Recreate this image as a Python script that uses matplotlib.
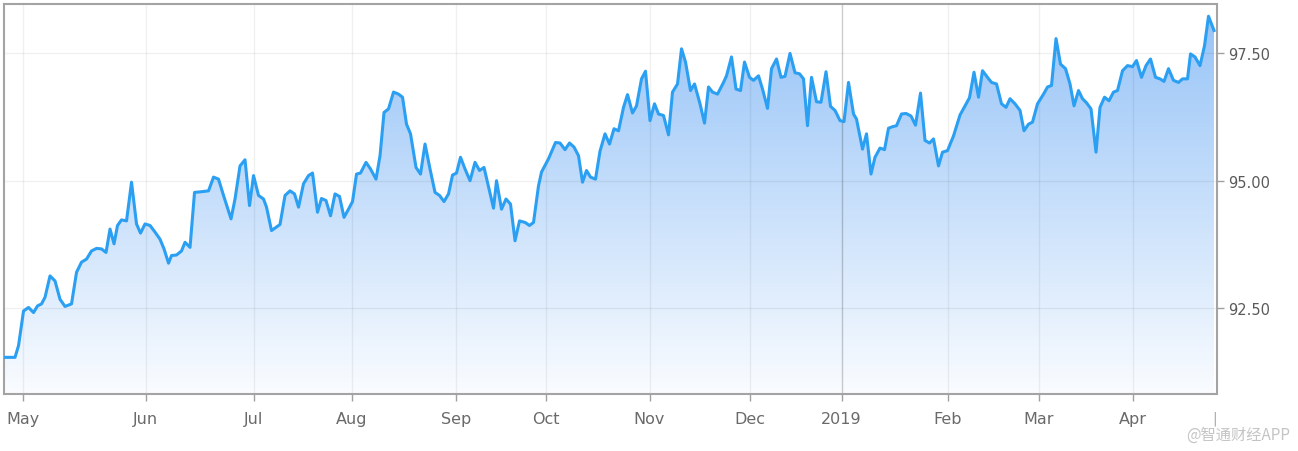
import numpy as np
import matplotlib.pyplot as plt
from matplotlib.colors import LinearSegmentedColormap
from matplotlib.patches import Polygon

# trading-session position (x) and index level (y)
session = [
    0.8, 3.0, 3.7, 4.7, 5.7, 6.7, 7.5, 8.3, 9.0, 10.0,
    11.0, 12.0, 13.0, 14.3, 15.3, 16.3, 17.3, 18.3, 19.3, 20.3,
    21.2, 22.0, 22.8, 23.5, 24.3, 25.3, 26.3, 27.3, 28.1, 29.0,
    30.0, 31.0, 32.0, 32.8, 33.7, 34.3, 35.3, 36.3, 37.0, 38.0,
    38.9, 40.0, 41.7, 42.7, 43.7, 44.7, 46.2, 47.0, 48.0, 49.0,
    49.9, 50.7, 51.7, 52.7, 53.3, 54.3, 56.0, 57.0, 58.0, 58.9,
    59.7, 60.7, 61.7, 62.5, 63.5, 64.3, 65.2, 66.1, 67.0, 67.9,
    68.8, 69.7, 70.5, 71.3, 72.1, 73.2, 74.1, 75.2, 76.0, 76.8,
    77.7, 78.7, 79.7, 80.5, 81.3, 82.1, 83.2, 84.1, 85.0, 86.0,
    87.0, 87.9, 88.8, 89.7, 90.5, 91.3, 92.1, 93.0, 94.0, 95.0,
    95.9, 96.8, 97.8, 98.7, 99.3, 100.3, 101.2, 102.1, 103.0, 103.9,
    105.0, 105.9, 106.7, 107.7, 108.3, 109.7, 111.1, 112.0, 113.0, 113.9,
    114.8, 115.7, 116.5, 117.3, 118.1, 119.1, 120.0, 121.0, 121.9, 122.8,
    123.7, 124.7, 125.5, 126.5, 127.3, 128.3, 129.1, 130.0, 130.9, 131.7,
    132.7, 133.7, 134.5, 135.5, 136.3, 137.1, 138.1, 138.9, 140.0, 140.9,
    141.7, 142.5, 143.5, 144.7, 145.3, 146.3, 147.2, 148.1, 148.9, 149.9,
    150.7, 151.7, 152.5, 153.5, 154.3, 155.3, 156.2, 157.0, 158.0, 159.0,
    159.9, 160.7, 161.5, 162.3, 163.3, 164.2, 165.2, 166.1, 167.0, 168.0,
    168.8, 169.7, 170.7, 171.3, 172.5, 173.3, 174.2, 175.0, 176.0, 176.9,
    177.7, 178.5, 179.3, 180.3, 181.2, 182.2, 183.1, 184.1, 185.0, 185.9,
    186.7, 187.7, 188.5, 189.5, 190.7, 192.0, 193.0, 193.9, 194.8, 195.7,
    196.5, 197.5, 198.3, 199.3, 200.3, 201.2, 202.0, 203.0, 204.0, 204.8,
    205.7, 206.5, 207.5, 208.7, 209.5, 210.3, 211.2, 212.1, 213.1, 214.0,
    214.8, 215.7, 216.5, 217.3, 218.2, 219.2, 220.0, 220.9, 221.8, 222.7,
    223.5, 224.5, 225.5, 226.5, 227.3, 228.3, 229.2, 230.1, 231.1, 232.0,
    232.8, 233.7, 234.7, 235.7, 236.5, 237.5, 238.1, 239.0, 240.0, 240.9,
    241.7, 242.8,
]
dxy = [
    91.53, 91.53, 91.76, 92.44, 92.51, 92.41, 92.54, 92.58, 92.71, 93.13,
    93.03, 92.67, 92.53, 92.58, 93.20, 93.40, 93.46, 93.62, 93.67, 93.66,
    93.59, 94.05, 93.76, 94.12, 94.23, 94.21, 94.97, 94.15, 93.97, 94.15,
    94.12, 93.99, 93.85, 93.66, 93.38, 93.53, 93.54, 93.62, 93.79, 93.69,
    94.77, 94.78, 94.80, 95.07, 95.03, 94.71, 94.25, 94.64, 95.29, 95.41,
    94.51, 95.10, 94.71, 94.64, 94.48, 94.02, 94.14, 94.71, 94.80, 94.74,
    94.48, 94.94, 95.10, 95.15, 94.38, 94.65, 94.61, 94.31, 94.74, 94.69,
    94.28, 94.44, 94.59, 95.13, 95.15, 95.36, 95.23, 95.03, 95.49, 96.34,
    96.41, 96.74, 96.70, 96.64, 96.11, 95.92, 95.26, 95.13, 95.72, 95.23,
    94.77, 94.71, 94.59, 94.74, 95.11, 95.15, 95.46, 95.23, 95.00, 95.36,
    95.20, 95.26, 94.84, 94.46, 95.00, 94.44, 94.64, 94.54, 93.82, 94.21,
    94.18, 94.12, 94.18, 94.90, 95.17, 95.43, 95.75, 95.74, 95.61, 95.74,
    95.66, 95.49, 94.97, 95.20, 95.07, 95.03, 95.58, 95.92, 95.72, 96.02,
    95.98, 96.44, 96.69, 96.33, 96.47, 97.00, 97.15, 96.18, 96.51, 96.31,
    96.28, 95.90, 96.74, 96.90, 97.59, 97.33, 96.77, 96.90, 96.51, 96.13,
    96.84, 96.74, 96.70, 96.93, 97.06, 97.43, 96.80, 96.77, 97.33, 97.03,
    96.97, 97.06, 96.80, 96.42, 97.20, 97.39, 97.03, 97.05, 97.50, 97.12,
    97.10, 97.00, 96.08, 97.03, 96.55, 96.54, 97.14, 96.46, 96.38, 96.18,
    96.16, 96.93, 96.31, 96.21, 95.62, 95.92, 95.13, 95.46, 95.64, 95.61,
    96.03, 96.06, 96.08, 96.31, 96.32, 96.27, 96.09, 96.72, 95.79, 95.74,
    95.82, 95.29, 95.56, 95.59, 95.88, 96.29, 96.47, 96.63, 97.13, 96.64,
    97.16, 97.03, 96.93, 96.90, 96.51, 96.44, 96.61, 96.51, 96.38, 95.98,
    96.11, 96.15, 96.51, 96.70, 96.84, 96.87, 97.79, 97.29, 97.20, 96.90,
    96.47, 96.77, 96.61, 96.53, 96.41, 95.56, 96.44, 96.64, 96.57, 96.74,
    96.77, 97.16, 97.26, 97.24, 97.36, 97.03, 97.26, 97.39, 97.03, 97.00,
    96.95, 97.20, 96.97, 96.93, 97.00, 97.00, 97.49, 97.43, 97.26, 97.65,
    98.23, 97.95,
]

month_pos = [4.6, 29.1, 50.8, 70.4, 91.2, 109.1, 129.9, 150.0, 168.3, 189.5, 207.7, 226.5, 243.0]
month_labels = ['May', 'Jun', 'Jul', 'Aug', 'Sep', 'Oct', 'Nov', 'Dec', '2019', 'Feb', 'Mar', 'Apr', '|']
y_ticks = [92.5, 95.0, 97.5]

x_lo, x_hi = 0.8, 243.4
y_lo, y_hi = 90.81, 98.47

fig = plt.figure(figsize=(12.98, 4.52), dpi=100)
ax = fig.add_axes([0.0031, 0.1261, 0.9345, 0.8628])

# gradient fill under the line
cmap = LinearSegmentedColormap.from_list('fill', ['#fafcff', '#94c2f7'])
grad = np.linspace(0, 1, 256).reshape(-1, 1)
img = ax.imshow(grad, cmap=cmap, extent=[x_lo, x_hi, y_lo, y_hi],
                origin='lower', aspect='auto', zorder=1)
xs = np.r_[session[0], session, session[-1]]
ys = np.r_[y_lo, dxy, y_lo]
poly = Polygon(np.column_stack([xs, ys]), closed=True, facecolor='none', edgecolor='none')
ax.add_patch(poly)
img.set_clip_path(poly)

ax.plot(session, dxy, color='#2b9ff2', lw=2.2, zorder=3, solid_joinstyle='round')

ax.set_xlim(x_lo, x_hi)
ax.set_ylim(y_lo, y_hi)

ax.yaxis.tick_right()
ax.set_yticks(y_ticks)
ax.set_yticklabels([f'{v:.2f}' for v in y_ticks])
ax.set_xticks(month_pos)
ax.set_xticklabels(month_labels)

ax.tick_params(axis='x', length=5, width=1, color='#a0a0a0', pad=7,
               labelsize=11.5, labelcolor='#6a6a6a')
ax.tick_params(axis='y', length=5, width=1, color='#a0a0a0', pad=3,
               labelsize=10.5, labelcolor='#5a5a5a')
ax.get_xticklines()[-2].set_visible(False)
ax.get_xticklabels()[-1].set_fontsize(10)
ax.get_xticklabels()[-1].set_color('#a8a8a8')

ax.set_axisbelow('line')
ax.grid(True, color='black', alpha=0.06, lw=1)
gl = ax.get_xgridlines()
gl[8].set_alpha(0.2)
gl[-1].set_visible(False)

for side in ['left', 'right', 'top', 'bottom']:
    ax.spines[side].set_color('#a3a3a3')
    ax.spines[side].set_linewidth(1.5)

fig.text(0.994, 0.036, '@智通财经APP', ha='right', va='center', color='#c4c4c4',
         fontsize=11, family=['Noto Sans CJK SC', 'DejaVu Sans'])

fig.savefig('out.png', dpi=100)
